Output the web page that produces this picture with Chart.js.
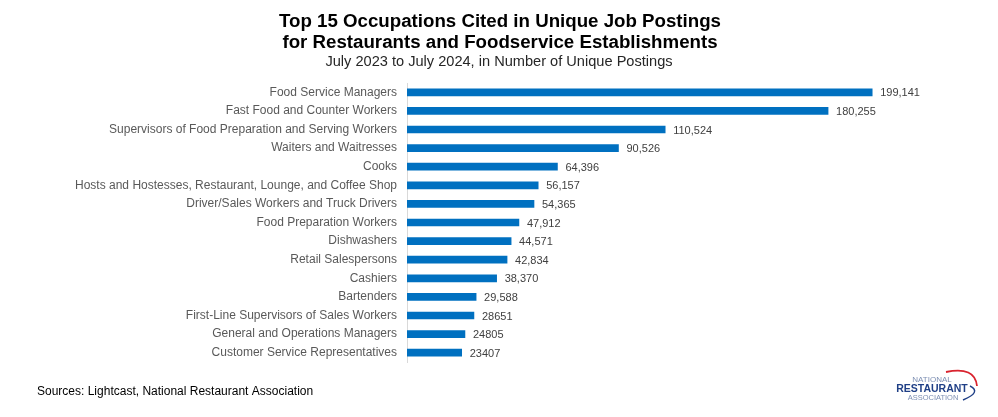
<!DOCTYPE html>
<html>
<head>
<meta charset="utf-8">
<script src="https://cdn.jsdelivr.net/npm/chart.js@4/dist/chart.umd.min.js"></script>
<style>
  html, body { margin: 0; padding: 0; background: #fff; }
  #wrap { position: relative; width: 998px; height: 417px; }
</style>
</head>
<body>
<div id="wrap"><canvas id="chart" width="998" height="417"></canvas></div>
<script>
// data
const occupations = [
  'Food Service Managers',
  'Fast Food and Counter Workers',
  'Supervisors of Food Preparation and Serving Workers',
  'Waiters and Waitresses',
  'Cooks',
  'Hosts and Hostesses, Restaurant, Lounge, and Coffee Shop',
  'Driver/Sales Workers and Truck Drivers',
  'Food Preparation Workers',
  'Dishwashers',
  'Retail Salespersons',
  'Cashiers',
  'Bartenders',
  'First-Line Supervisors of Sales Workers',
  'General and Operations Managers',
  'Customer Service Representatives'
];
const postings = [199141, 180255, 110524, 90526, 64396, 56157, 54365, 47912, 44571, 42834, 38370, 29588, 28651, 24805, 23407];
// the source labels mix formats (some with commas, some without)
const postingLabels = ['199,141', '180,255', '110,524', '90,526', '64,396', '56,157', '54,365', '47,912', '44,571', '42,834', '38,370', '29,588', '28651', '24805', '23407'];

const titleLines = ['Top 15 Occupations Cited in Unique Job Postings', 'for Restaurants and Foodservice Establishments'];
const subtitle = 'July 2023 to July 2024, in Number of Unique Postings';
const sourceNote = 'Sources: Lightcast, National Restaurant Association';

const FONT = '"Liberation Sans", Arial, sans-serif';

// value labels at the end of each bar
const valueLabels = {
  id: 'valueLabels',
  afterDatasetsDraw(chart) {
    const ctx = chart.ctx;
    const meta = chart.getDatasetMeta(0);
    ctx.save();
    ctx.font = '11px ' + FONT;
    ctx.fillStyle = '#404040';
    ctx.textBaseline = 'middle';
    ctx.textAlign = 'left';
    meta.data.forEach((bar, i) => {
      ctx.fillText(postingLabels[i], bar.x + 8, bar.y + 1);
    });
    ctx.restore();
  }
};

// titles, source note, logo
const decorations = {
  id: 'decorations',
  afterDraw(chart) {
    const ctx = chart.ctx;
    ctx.save();
    ctx.textAlign = 'center';
    ctx.textBaseline = 'middle';
    ctx.fillStyle = '#000';
    ctx.font = 'bold 18.7px ' + FONT;
    ctx.fillText(titleLines[0], 500, 22);
    ctx.fillText(titleLines[1], 500, 43);
    ctx.font = '14.6px ' + FONT;
    ctx.fillStyle = '#262626';
    ctx.fillText(subtitle, 499, 62);

    ctx.textAlign = 'left';
    ctx.font = '12px ' + FONT;
    ctx.fillStyle = '#000';
    ctx.fillText(sourceNote, 37, 392);

    // logo
    ctx.textAlign = 'center';
    ctx.fillStyle = '#7d8fb3';
    ctx.font = '8px ' + FONT;
    ctx.fillText('NATIONAL', 932, 380);
    ctx.fillStyle = '#1f3f86';
    ctx.font = 'bold 10.5px ' + FONT;
    ctx.fillText('RESTAURANT', 932, 389);
    ctx.fillStyle = '#7d8fb3';
    ctx.font = '7.5px ' + FONT;
    ctx.fillText('ASSOCIATION', 933, 397.5);
    ctx.strokeStyle = '#d9232e';
    ctx.lineWidth = 1.8;
    ctx.beginPath();
    ctx.moveTo(946, 372);
    ctx.quadraticCurveTo(975, 366, 977, 386);
    ctx.stroke();
    ctx.strokeStyle = '#1f3f86';
    ctx.lineWidth = 1.4;
    ctx.beginPath();
    ctx.moveTo(970, 386);
    ctx.quadraticCurveTo(982, 392, 963, 400);
    ctx.stroke();
    ctx.restore();
  }
};

new Chart(document.getElementById('chart'), {
  type: 'bar',
  data: {
    labels: occupations,
    datasets: [{
      data: postings,
      backgroundColor: '#0070c0',
      barThickness: 7
    }]
  },
  options: {
    indexAxis: 'y',
    responsive: false,
    animation: false,
    layout: { padding: { top: 83, bottom: 55, left: 0, right: 7 } },
    scales: {
      x: { display: false, min: 0, max: 250000 },
      y: {
        afterFit: s => { s.width = 407; },
        grid: { display: false, drawTicks: false },
        border: { display: true, color: '#d9d9d9', width: 1 },
        ticks: {
          padding: 10,
          color: '#595959',
          font: { family: FONT, size: 12 }
        }
      }
    },
    plugins: {
      legend: { display: false },
      tooltip: { enabled: false },
      title: { display: false }
    }
  },
  plugins: [valueLabels, decorations]
});
</script>
</body>
</html>
